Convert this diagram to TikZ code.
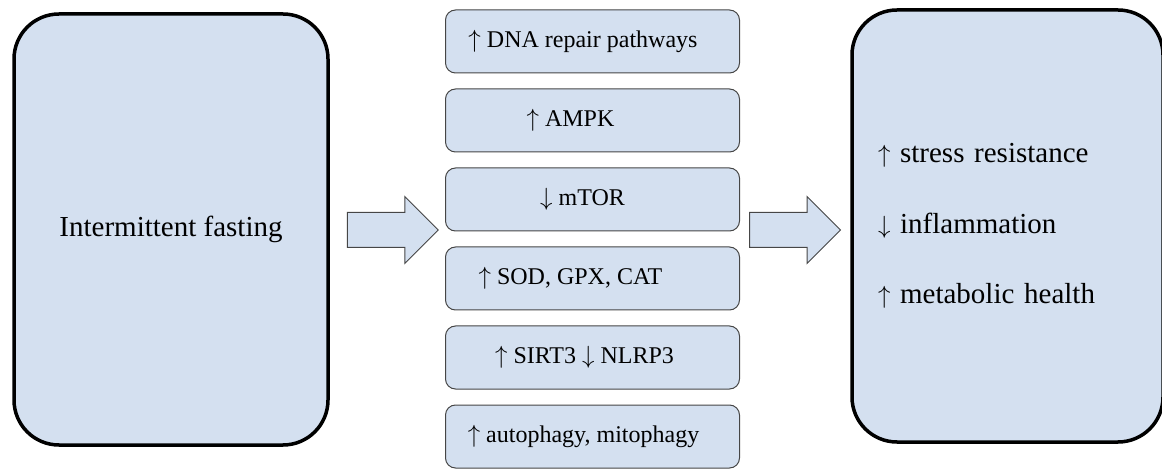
\documentclass[tikz,border=0pt]{standalone}
\usepackage{fontspec}
\setmainfont{Liberation Serif}
\usetikzlibrary{positioning,shapes.arrows}
\definecolor{boxfill}{RGB}{212,224,240}
\definecolor{boxline}{RGB}{70,70,70}
\newcommand{\up}{$\uparrow$}
\newcommand{\dn}{$\downarrow$}

\begin{document}
\begin{tikzpicture}[x=1pt,y=-1pt,node distance=79pt,on grid,
	bigbox/.style={draw=black,line width=3.5pt,rounded corners=45pt,fill=boxfill,
		font=\fontsize{29}{70.5}\selectfont},
	stepbox/.style={draw=boxline,line width=1pt,rounded corners=10pt,fill=boxfill,
		minimum width=294pt,minimum height=63pt,inner sep=0pt},
	blockarrow/.style={single arrow,draw=boxline,fill=boxfill,line width=1pt,
		single arrow head extend=16pt,minimum height=91pt,inner sep=0pt,
		text height=34pt,text depth=0pt,text width=0pt,anchor=tail},
	every label/.style={font=\fontsize{24}{28}\selectfont}]
	\useasboundingbox (0,0) rectangle (1162,470);
	\node[bigbox,minimum width=314pt,minimum height=431pt] (fast) at (171,229.5) {Intermittent fasting};
	\node[stepbox,label={[xshift=-9.5pt]center:\up{} DNA repair pathways}] (dna) at (592.5,41.5) {};
	\node[stepbox,label={[xshift=-22pt]center:\up{} AMPK}] (ampk) [below=of dna] {};
	\node[stepbox,label={[xshift=-10pt]center:\dn{} mTOR}] (mtor) [below=of ampk] {};
	\node[stepbox,label={[xshift=-22pt]center:{\up{} SOD, GPX, CAT}}] (sod) [below=of mtor] {};
	\node[stepbox,label={[xshift=-8pt]center:\up{} SIRT3 \dn{} NLRP3}] (sirt) [below=of sod] {};
	\node[stepbox,label={[xshift=-9pt]center:{\up{} autophagy, mitophagy}}] (auto) [below=of sirt] {};
	\node[bigbox,minimum width=311pt,minimum height=432pt,text width=259pt,align=left] (health) at (1007.5,226)
		{\up{} stress resistance\\\dn{} inflammation\\\up{} metabolic health};
	% block arrows between the columns
	\node[blockarrow] (in) at ([xshift=17pt]fast.east |- 0,230) {};
	\node[blockarrow] (out) at ([xshift=9pt]mtor.east |- 0,230) {};
\end{tikzpicture}
\end{document}
